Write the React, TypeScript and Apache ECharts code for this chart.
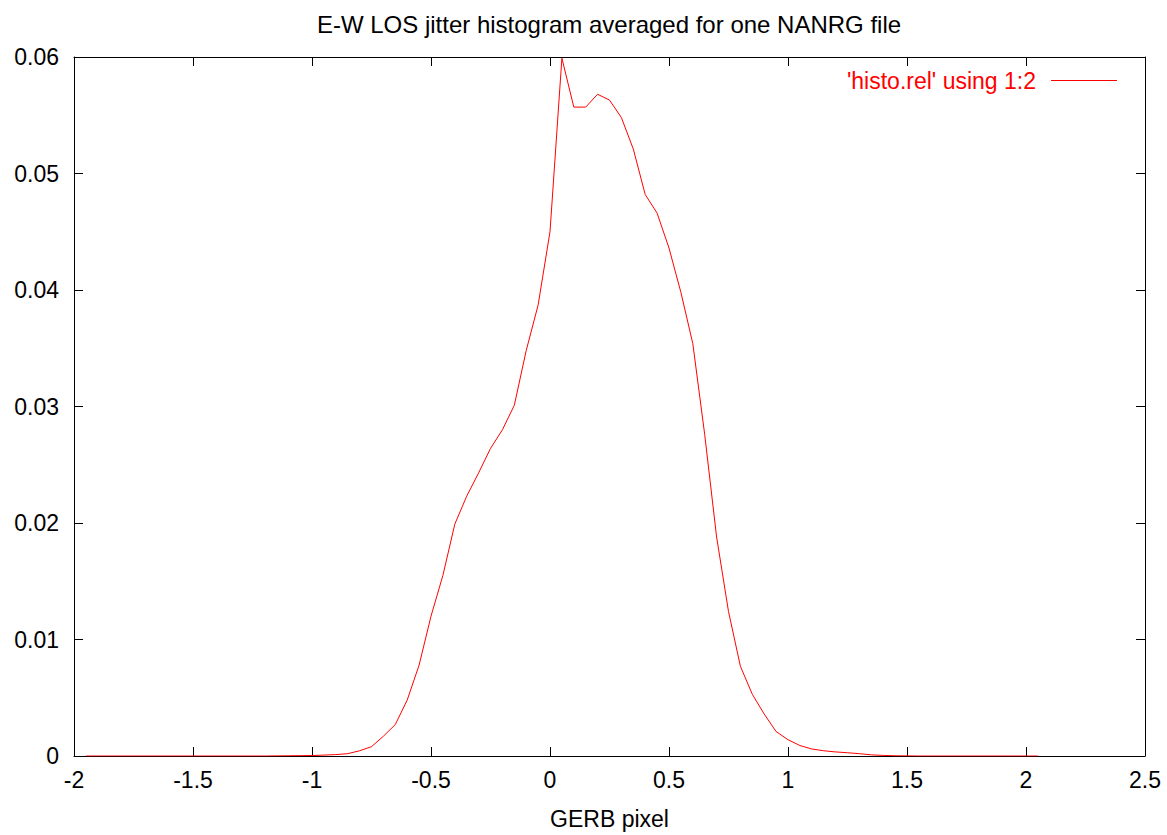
import React, { useEffect, useRef } from "react";
import * as echarts from "echarts";

const TITLE = "E-W LOS jitter histogram averaged for one NANRG file";
const X_NAME = "GERB pixel";
const SERIES_NAME = "'histo.rel' using 1:2";

const xValues: number[] = [
  -1.95, -1.9, -1.85, -1.8, -1.75, -1.7, -1.65, -1.6, -1.55, -1.5,
  -1.45, -1.4, -1.35, -1.3, -1.25, -1.2, -1.15, -1.1, -1.05, -1.0,
  -0.95, -0.9, -0.85, -0.8, -0.75, -0.7, -0.65, -0.6, -0.55, -0.5,
  -0.45, -0.4, -0.35, -0.3, -0.25, -0.2, -0.15, -0.1, -0.05, 0.0,
  0.05, 0.1, 0.15, 0.2, 0.25, 0.3, 0.35, 0.4, 0.45, 0.5,
  0.55, 0.6, 0.65, 0.7, 0.75, 0.8, 0.85, 0.9, 0.95, 1.0,
  1.05, 1.1, 1.15, 1.2, 1.25, 1.3, 1.35, 1.4, 1.45, 1.5,
  1.55, 1.6, 1.65, 1.7, 1.75, 1.8, 1.85, 1.9, 1.95, 2.0,
  2.05,
];

const yValues: number[] = [
  0, 0, 0, 0, 0, 0, 0, 0, 0, 0,
  0, 0, 0, 0, 0, 0, 0.00001, 0.00002, 0.00003, 0.00004,
  0.00008, 0.00012, 0.0002, 0.00045, 0.0008, 0.0017, 0.0027, 0.0048, 0.0078, 0.012,
  0.0155, 0.0199, 0.0223, 0.0243, 0.0264, 0.028, 0.0301, 0.0348, 0.0387, 0.045,
  0.0599, 0.0557, 0.0557, 0.0568, 0.0563, 0.0548, 0.0521, 0.0482, 0.0466, 0.0436,
  0.0398, 0.0354, 0.0276, 0.0188, 0.0124, 0.0077, 0.0053, 0.0036, 0.0021, 0.0014,
  0.0009, 0.0006, 0.00045, 0.00035, 0.00028, 0.0002, 0.0001, 0.00005, 0.00002, 0.00001,
  0, 0, 0, 0, 0, 0, 0, 0, 0, 0,
  0,
];

const FONT = "'Liberation Sans', Arial, Helvetica, sans-serif";
const FS = 23;

export default function App() {
  const ref = useRef<HTMLDivElement>(null);
  useEffect(() => {
    if (!ref.current) return;
    const chart = echarts.init(ref.current, null, { renderer: "svg" });
    const data = xValues.map((x, i) => [x, yValues[i]]);
    const axisLine = { show: true, onZero: false, lineStyle: { color: "#000", width: 1 } };
    const tick = { show: true, inside: true, length: 9, lineStyle: { color: "#000", width: 1 } };
    chart.setOption({
      animation: false,
      backgroundColor: "#fff",
      textStyle: { fontFamily: FONT },
      title: {
        text: TITLE,
        left: 604,
        textAlign: "center",
        top: 7,
        textStyle: { fontFamily: FONT, fontSize: 24, fontWeight: "normal", color: "#000" },
      },
      legend: {
        data: [SERIES_NAME],
        right: 45,
        top: 64,
        icon: "rect",
        itemWidth: 66,
        itemHeight: 1,
        align: "right",
        textStyle: { fontFamily: FONT, fontSize: FS, color: "#ff0000", padding: [0, 10, 0, 0] },
      },
      grid: { left: 74, right: 22, top: 57, bottom: 75, containLabel: false, show: false },
      xAxis: [
        {
          type: "value",
          min: -2,
          max: 2.5,
          interval: 0.5,
          position: "bottom",
          name: X_NAME,
          nameLocation: "middle",
          nameGap: 51,
          nameTextStyle: { fontFamily: FONT, fontSize: FS, color: "#000" },
          axisLine,
          axisTick: tick,
          splitLine: { show: false },
          axisLabel: { fontFamily: FONT, fontSize: FS, color: "#000", margin: 12 },
        },
        {
          type: "value",
          min: -2,
          max: 2.5,
          interval: 0.5,
          position: "top",
          axisLine,
          axisTick: tick,
          splitLine: { show: false },
          axisLabel: { show: false },
        },
      ],
      yAxis: [
        {
          type: "value",
          min: 0,
          max: 0.06,
          interval: 0.01,
          position: "left",
          axisLine,
          axisTick: tick,
          splitLine: { show: false },
          axisLabel: { fontFamily: FONT, fontSize: FS, color: "#000", margin: 15 },
        },
        {
          type: "value",
          min: 0,
          max: 0.06,
          interval: 0.01,
          position: "right",
          axisLine,
          axisTick: tick,
          splitLine: { show: false },
          axisLabel: { show: false },
        },
      ],
      series: [
        {
          name: SERIES_NAME,
          type: "line",
          data,
          showSymbol: false,
          symbol: "none",
          color: "#ff0000",
          lineStyle: { color: "#ff0000", width: 1 },
          xAxisIndex: 0,
          yAxisIndex: 0,
        },
      ],
    });
    return () => chart.dispose();
  }, []);
  return (
    <div
      ref={ref}
      style={{ position: "fixed", left: 0, top: 0, width: 1167, height: 835, background: "#fff" }}
    />
  );
}
